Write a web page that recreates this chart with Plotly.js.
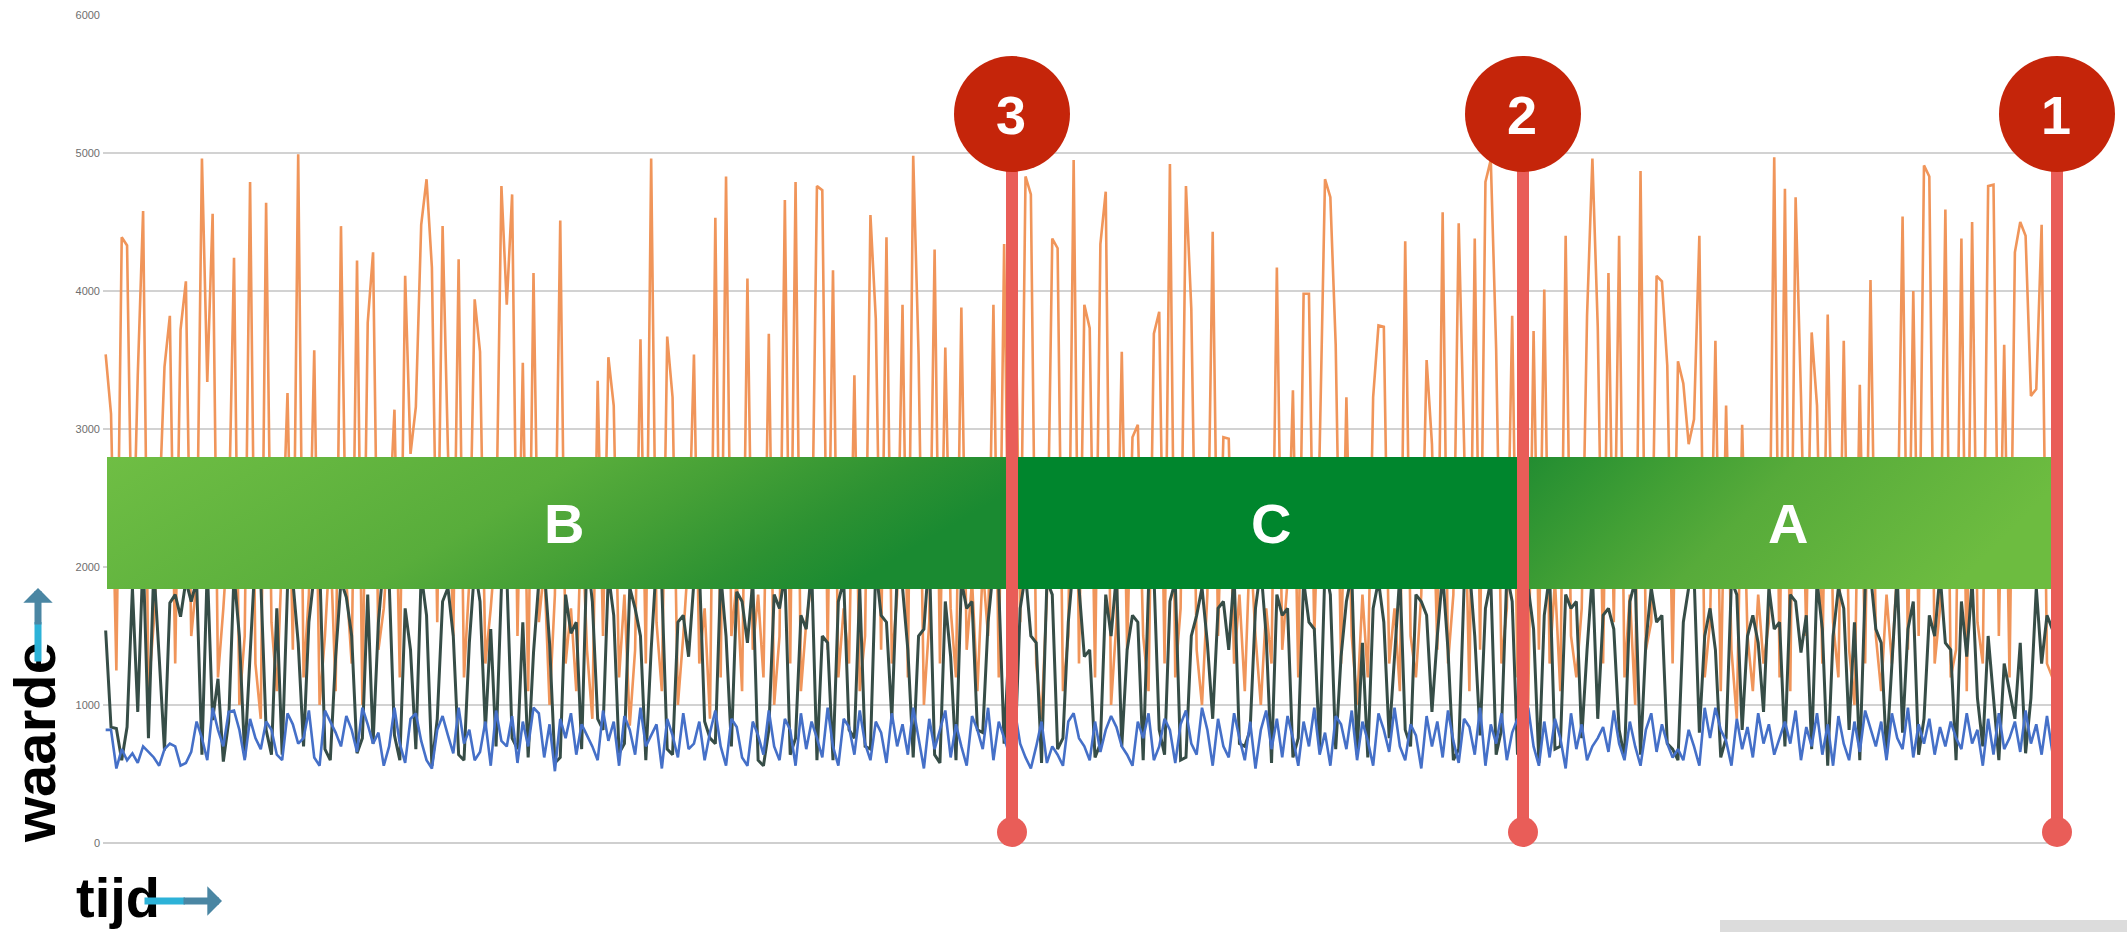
<!DOCTYPE html>
<html>
<head>
<meta charset="utf-8">
<script src="https://cdn.plot.ly/plotly-3.0.1.min.js"></script>
<style>html,body{margin:0;padding:0;background:#fff;}#chart{width:2127px;height:932px;}</style>
</head>
<body>
<div id="chart"></div>
<script>
// ---- data (approximate) ----
const orangeValues = [
3540,3110,1250,4390,4330,1800,3390,4580,1100,1600,2400,3450,3820,1300,3720,4070,1500,1900,4960,3340,
4560,1200,1700,2300,4240,1000,1500,4790,1300,900,4640,1600,1100,2100,3260,1400,4990,1200,1800,3570,
1000,1500,2200,1100,4470,1900,1300,4220,1000,3770,4280,1400,1700,2300,3140,1200,4110,2820,3160,4480,
4810,4170,1600,4470,2850,1500,4230,1200,1900,3940,3560,1300,1700,2200,4760,3900,4700,1500,3480,1100,
4130,1600,2000,1000,1800,4510,1300,1700,1100,2400,1400,900,3350,1500,3520,3170,1200,1800,850,1400,
3650,1300,4960,1600,1100,3670,3230,1000,1500,2100,3540,1300,1700,900,4530,1200,4830,1500,1900,1100,
4090,1400,1800,1200,3690,1000,1500,4660,1300,4790,1100,1600,1900,4760,4730,1400,4150,1200,1700,1300,
3390,1100,1500,4550,3800,1400,4390,1300,1800,3900,1200,4980,3540,1000,1600,4300,1300,3590,1700,1200,
3880,1400,1900,1100,2000,1500,3900,1200,4340,1400,4350,1600,4830,4700,1300,900,1800,4380,4310,1100,
1500,4950,1300,3900,3730,1200,4340,4720,1000,1600,3560,1400,2940,3030,1500,1100,3690,3850,1300,4920,
1200,1700,4760,3870,1400,1000,1800,4430,1500,2940,2930,1300,1800,1100,2200,1500,1000,1700,1300,4170,
1400,1900,3280,1200,3980,3980,1500,2850,4810,4680,3610,1300,3230,1500,1000,1800,1200,3230,3750,3740,
1300,1700,1100,4360,1500,1200,1800,3500,2890,1400,4570,1300,1800,4490,2900,1100,4380,1400,4790,4950,
3580,1300,1700,3820,1200,1500,1000,3710,1400,4010,1300,1900,1100,4400,1500,1200,1700,3820,4960,3740,
1300,4130,1600,4400,1200,1800,1000,4870,1400,1600,4110,4070,3460,1300,3490,3330,2890,3070,4400,1200,
1600,3640,1100,3170,1400,900,3030,1500,1100,1800,1300,1600,4970,1200,4740,1100,4680,3240,1500,3700,
3170,1300,3830,1600,1200,3640,1400,1000,3320,1300,4080,1500,1100,1800,1300,2000,4540,1400,4000,1500,
4910,4830,1300,1700,4590,1200,1400,4380,1100,4500,1600,1300,4760,4770,1500,3610,1200,4280,4500,4400,
3240,3290,4480,1300,1200
];
const darkValues = [
1540,840,830,600,840,1850,950,2100,760,2000,1350,670,1740,1800,1640,1900,1750,1900,640,2000,
890,1190,590,880,1950,1500,620,1400,2100,1900,820,640,1700,640,1850,1900,1450,700,1600,1950,
2050,680,600,1350,1900,1780,1500,650,760,1800,720,1600,2050,1900,780,600,1700,1400,680,1950,
1650,560,900,1750,1850,1500,640,600,1450,2000,1750,820,1550,700,1850,1950,760,680,1600,620,
1380,1900,2000,1450,580,620,1800,1520,1600,680,2100,1750,900,820,1950,1650,650,720,1850,1700,
1500,600,1400,2050,1850,680,640,1600,1650,1350,1900,2000,880,760,720,1950,1500,700,1820,1750,
1450,1900,600,560,820,1800,1700,1950,640,760,1650,1550,2000,600,1500,1450,600,1750,1900,820,
760,1850,700,680,2000,1650,1600,900,1950,1850,1400,620,1500,1550,2100,640,580,1750,1350,600,
1900,1700,1750,820,800,1600,2000,1850,720,1500,640,1700,1950,1500,1450,580,1900,1800,680,760,
1600,2050,1850,1350,1400,620,720,1800,1500,1950,700,1400,1650,1600,600,1850,1950,820,640,1750,
1900,600,620,1500,1650,1850,1450,900,1700,1750,1400,1950,720,700,820,1700,2000,1500,580,1800,
1650,1700,620,760,1900,1600,1550,680,2000,1800,680,1350,1750,1950,640,1450,620,1700,1900,1600,
760,1350,1950,820,700,1800,1750,1650,950,1500,1950,1400,600,680,1850,2000,1500,780,1700,1900,
640,820,1950,1750,640,1600,1850,1550,580,1650,1950,680,700,1800,1700,1750,760,1400,1950,900,
1650,1700,1550,820,620,1750,1900,640,1450,1850,1600,1650,720,680,600,1600,1850,1950,800,1500,
1700,1400,620,760,1900,1800,820,1500,1650,1450,950,1850,1550,1600,700,1800,1750,1380,1650,680,
1900,1550,560,1500,1850,1700,820,1600,600,1850,1950,1550,1450,640,1300,1950,800,1550,1750,640,
900,1650,1500,1950,1450,1400,600,1750,1350,1900,1050,700,1500,1050,600,1300,1100,900,1450,650,
1050,1850,1300,1650,1550
];
const blueValues = [
820,820,540,680,600,650,580,700,660,620,560,680,720,700,560,580,660,880,760,600,
980,820,700,950,960,820,600,900,760,680,880,820,640,600,940,860,720,760,960,620,
560,960,880,800,700,920,820,660,980,860,720,800,560,700,980,720,580,900,940,740,
600,540,820,920,780,650,980,720,820,600,660,880,560,960,740,700,920,580,880,700,
980,940,620,860,520,900,760,940,640,860,780,700,600,960,740,880,560,920,820,640,
980,700,780,860,540,900,780,620,940,680,720,880,600,800,960,700,560,900,840,620,
560,880,780,640,960,700,600,900,820,560,940,680,880,760,620,980,700,560,900,840,
640,960,720,600,880,800,580,940,700,860,640,980,760,540,900,680,820,960,620,860,
700,560,920,820,680,980,600,880,760,640,960,720,620,540,700,880,580,700,640,560,
880,940,760,700,600,880,660,820,920,840,700,640,560,880,760,940,600,700,900,820,
580,860,960,720,640,980,820,560,900,700,620,940,760,600,880,540,820,960,680,900,
620,920,760,560,880,700,980,640,800,560,920,860,680,960,600,880,740,560,940,820,
660,980,700,600,860,780,540,920,700,880,620,960,740,580,900,840,640,980,560,860,
720,940,600,800,900,660,980,700,560,880,620,900,760,540,940,680,860,600,700,760,
840,660,960,720,600,880,700,560,820,940,660,860,720,620,680,600,820,700,560,980,
760,980,820,740,560,900,680,840,620,940,720,860,640,760,880,720,960,600,840,700,
940,640,860,560,920,720,600,880,660,960,820,700,880,600,940,760,680,980,620,860,
720,900,640,840,700,880,760,680,940,720,820,560,900,640,940,680,760,880,660,960,
720,860,640,920,660
];
const yTickValues = [0,1000,2000,3000,4000,5000,6000];
const yTickLabels = ['0','1000','2000','3000','4000','5000','6000'];
const bandLabels = ['B','C','A'];
const markerLabels = ['3','2','1'];
const axisTexts = ['waarde','tijd'];

// ---- layout helpers (pixel -> paper) ----
const L = 103, T = 15, W = 1952, H = 828;
const px = x => (x - L) / W;
const py = y => 1 - (y - T) / H;

const idx = orangeValues.map((_, i) => i);

const traces = [
  {x: idx, y: orangeValues, type: 'scatter', mode: 'lines', line: {color: '#f0955a', width: 2.6}, hoverinfo: 'skip'},
  {x: idx, y: darkValues, type: 'scatter', mode: 'lines', line: {color: '#364d47', width: 3}, hoverinfo: 'skip'},
  {x: idx, y: blueValues, type: 'scatter', mode: 'lines', line: {color: '#4570c8', width: 2.6}, hoverinfo: 'skip'}
];

// band image (gradient)
const bandSvg =
  "<svg xmlns='http://www.w3.org/2000/svg' width='1944' height='132' viewBox='0 0 1944 132' preserveAspectRatio='none'>" +
  "<defs>" +
  "<linearGradient id='gB' x1='0' y1='0' x2='1' y2='0.25'>" +
  "<stop offset='0' stop-color='#6fbe44'/><stop offset='0.5' stop-color='#58ad3b'/>" +
  "<stop offset='0.67' stop-color='#45a036'/><stop offset='0.85' stop-color='#2d9232'/><stop offset='1' stop-color='#1a8a31'/>" +
  "</linearGradient>" +
  "<linearGradient id='gA' x1='0' y1='0' x2='1' y2='0.25'>" +
  "<stop offset='0' stop-color='#218c31'/><stop offset='0.3' stop-color='#42a035'/>" +
  "<stop offset='0.5' stop-color='#57ab3a'/><stop offset='1' stop-color='#6dbc40'/>" +
  "</linearGradient>" +
  "</defs>" +
  "<rect x='0' y='0' width='906' height='132' fill='url(#gB)'/>" +
  "<rect x='905' y='0' width='512' height='132' fill='#00862d'/>" +
  "<rect x='1416' y='0' width='528' height='132' fill='url(#gA)'/>" +
  "</svg>";
const bandSrc = 'data:image/svg+xml;charset=utf-8,' + encodeURIComponent(bandSvg);

const markerX = [1012, 1523, 2057];
const circleY = 114, circleR = 58, dotY = 832, dotR = 15;
const shapes = [];
markerX.forEach(mx => {
  shapes.push({type: 'line', xref: 'paper', yref: 'paper', layer: 'above',
    x0: px(mx), x1: px(mx), y0: py(circleY), y1: py(dotY), line: {color: '#e95d58', width: 12}});
  shapes.push({type: 'circle', xref: 'paper', yref: 'paper', layer: 'above',
    x0: px(mx - dotR), x1: px(mx + dotR), y0: py(dotY + dotR), y1: py(dotY - dotR),
    fillcolor: '#e95d58', line: {width: 0}});
  shapes.push({type: 'circle', xref: 'paper', yref: 'paper', layer: 'above',
    x0: px(mx - circleR), x1: px(mx + circleR), y0: py(circleY + circleR), y1: py(circleY - circleR),
    fillcolor: '#c5250a', line: {width: 0}});
});
shapes.push({type: 'rect', xref: 'paper', yref: 'paper', layer: 'above',
  x0: px(1720), x1: px(2127), y0: py(932), y1: py(920), fillcolor: '#dcdcdc', line: {width: 0}});

const annotations = [];
const bandLabelX = [564, 1271, 1788];
bandLabels.forEach((t, i) => annotations.push({
  xref: 'paper', yref: 'paper', x: px(bandLabelX[i]), y: py(523), text: t, showarrow: false,
  xanchor: 'center', yanchor: 'middle',
  font: {family: 'Liberation Sans, Arial, sans-serif', size: 56, color: '#ffffff', weight: 'bold'}
}));
markerLabels.forEach((t, i) => annotations.push({
  xref: 'paper', yref: 'paper', x: px(markerX[i] - 1), y: py(circleY + 1), text: t, showarrow: false,
  xanchor: 'center', yanchor: 'middle',
  font: {family: 'Liberation Sans, Arial, sans-serif', size: 54, color: '#ffffff', weight: 'bold'}
}));
annotations.push({
  xref: 'paper', yref: 'paper', x: px(34), y: py(743), text: axisTexts[0], showarrow: false,
  textangle: -90, xanchor: 'center', yanchor: 'middle',
  font: {family: 'Liberation Sans, Arial, sans-serif', size: 58, color: '#000000', weight: 'bold'}
});
annotations.push({
  xref: 'paper', yref: 'paper', x: px(118), y: py(897), text: axisTexts[1], showarrow: false,
  xanchor: 'center', yanchor: 'middle',
  font: {family: 'Liberation Sans, Arial, sans-serif', size: 56, color: '#000000', weight: 'bold'}
});
// arrows: tail part (cyan) then head part (steel blue)
annotations.push({xref: 'paper', yref: 'paper', x: px(38), y: py(622), ax: 0, ay: 41, axref: 'pixel', ayref: 'pixel',
  text: '', showarrow: true, arrowhead: 0, arrowwidth: 7, arrowcolor: '#2cb2d8'});
annotations.push({xref: 'paper', yref: 'paper', x: px(38), y: py(588), ax: 0, ay: 38, axref: 'pixel', ayref: 'pixel',
  text: '', showarrow: true, arrowhead: 1, arrowsize: 0.7, arrowwidth: 7, arrowcolor: '#4a86a3'});
annotations.push({xref: 'paper', yref: 'paper', x: px(185), y: py(901), ax: -42, ay: 0, axref: 'pixel', ayref: 'pixel',
  text: '', showarrow: true, arrowhead: 0, arrowwidth: 7, arrowcolor: '#2cb2d8'});
annotations.push({xref: 'paper', yref: 'paper', x: px(222), y: py(901), ax: -40, ay: 0, axref: 'pixel', ayref: 'pixel',
  text: '', showarrow: true, arrowhead: 1, arrowsize: 0.7, arrowwidth: 7, arrowcolor: '#4a86a3'});

const layout = {
  width: 2127, height: 932,
  margin: {l: L, r: 2127 - L - W, t: T, b: 932 - T - H, pad: 0},
  paper_bgcolor: '#ffffff', plot_bgcolor: '#ffffff',
  showlegend: false,
  xaxis: {range: [-0.5, orangeValues.length - 0.5], showgrid: false, zeroline: false, showticklabels: false, showline: false, ticks: ''},
  yaxis: {range: [0, 6000], tickvals: yTickValues, ticktext: yTickLabels, showgrid: true, gridcolor: '#d2d2d2', gridwidth: 2,
    zeroline: true, zerolinecolor: '#cfcfcf', zerolinewidth: 2, showline: false, ticks: '', ticklabelstandoff: 2,
    tickfont: {family: 'Liberation Sans, Arial, sans-serif', size: 11, color: '#6e6e6e'}},
  images: [{source: bandSrc, xref: 'paper', yref: 'paper', x: px(107), y: py(457), sizex: 1944 / W, sizey: 132 / H,
    xanchor: 'left', yanchor: 'top', sizing: 'stretch', layer: 'above'}],
  shapes: shapes,
  annotations: annotations
};

Plotly.newPlot('chart', traces, layout, {displayModeBar: false, staticPlot: true});
</script>
</body>
</html>
